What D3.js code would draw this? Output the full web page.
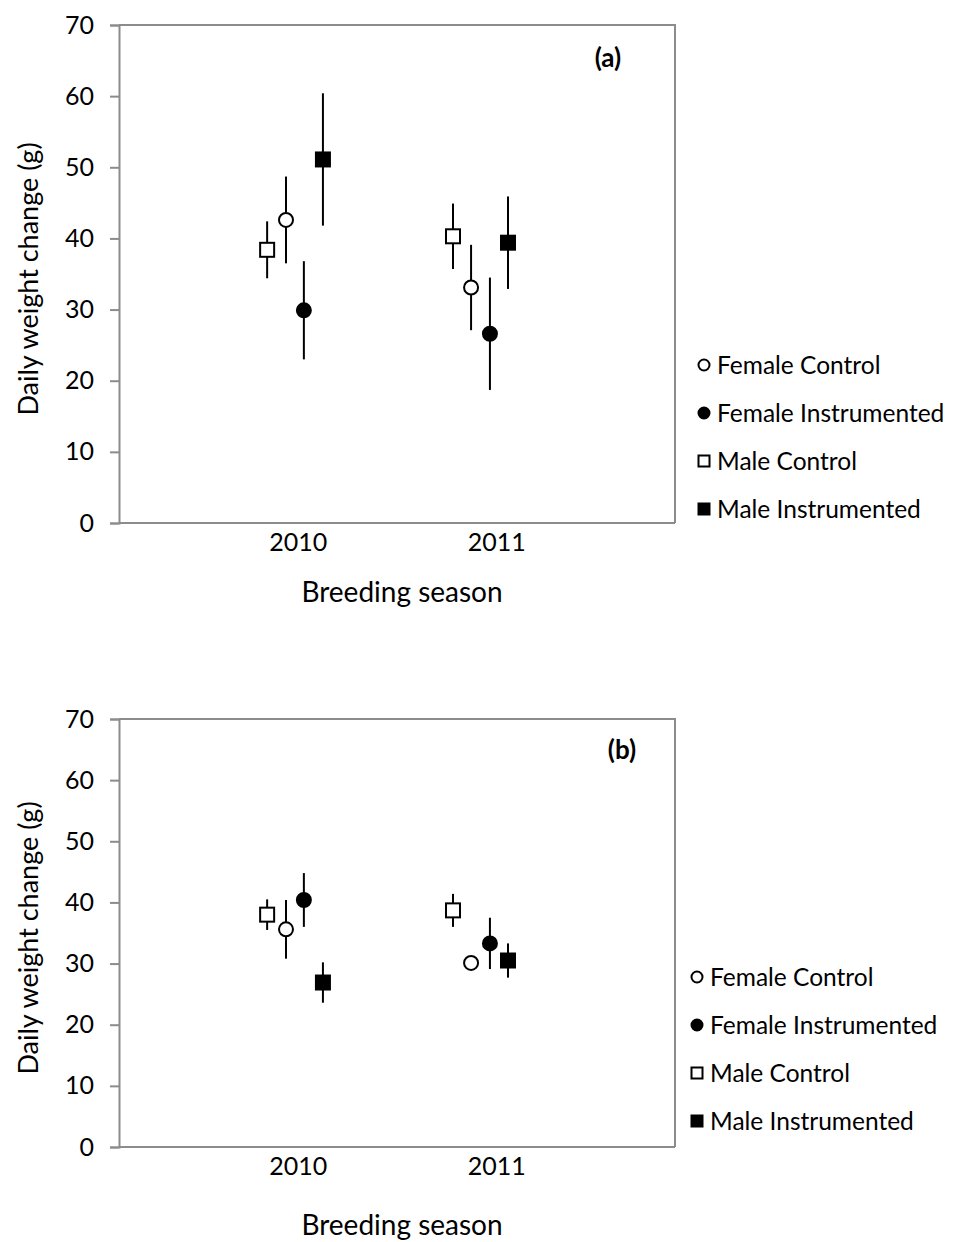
<!DOCTYPE html>
<html>
<head>
<meta charset="utf-8">
<script src="https://cdn.jsdelivr.net/npm/d3@7"></script>
<style>
  html, body { margin: 0; padding: 0; background: #fff; }
  svg { display: block; font-family: Lato, "Open Sans", sans-serif; }
</style>
</head>
<body>
<svg id="chart" width="955" height="1242"></svg>
<script>
// Breeding seasons and treatment groups
const seasons = [2010, 2011];
const groups = ["Female Control", "Female Instrumented", "Male Control", "Male Instrumented"];
const yTicks = [0, 10, 20, 30, 40, 50, 60, 70];

// Horizontal offsets (in years) of each group within a season
const offsets2010 = [-0.059, 0.031, -0.154, 0.127];
const offsets2011 = [-0.127, -0.032, -0.218, 0.059];

// Panel (a): mean daily weight change (g) and error half-widths
const aMean2010 = [42.6, 29.9, 38.4, 51.1];
const aErr2010  = [6.1, 6.9, 4.0, 9.3];
const aMean2011 = [33.1, 26.6, 40.3, 39.4];
const aErr2011  = [6.0, 7.9, 4.6, 6.5];

// Panel (b)
const bMean2010 = [35.6, 40.4, 38.0, 26.9];
const bErr2010  = [4.8, 4.4, 2.5, 3.3];
const bMean2011 = [30.1, 33.3, 38.7, 30.5];
const bErr2011  = [0.6, 4.2, 2.7, 2.8];

const markerFill = ["#fff", "#000", "#fff", "#000"];
const markerShape = ["circle", "circle", "square", "square"];

function buildRows(means, errs) {
  const offs = [offsets2010, offsets2011];
  const rows = [];
  seasons.forEach((s, si) => {
    groups.forEach((g, gi) => {
      rows.push({ season: s, group: g, gi: gi,
        x: s + offs[si][gi], y: means[si][gi], e: errs[si][gi] });
    });
  });
  return rows;
}

const svg = d3.select("#chart");
const left = 119, right = 675;
const axisGrey = "#8c8c8c";
const fontStack = "Lato, 'Open Sans', sans-serif";

function drawMarker(sel, gi, size) {
  if (markerShape[gi] === "circle") {
    sel.append("circle").attr("r", size / 2)
      .attr("fill", markerFill[gi]).attr("stroke", "#000").attr("stroke-width", 2);
  } else {
    sel.append("rect").attr("x", -size / 2).attr("y", -size / 2)
      .attr("width", size).attr("height", size)
      .attr("fill", markerFill[gi]).attr("stroke", "#000").attr("stroke-width", 2);
  }
}

function panel(opts) {
  const { top, bottom, rows, tag, tagX, tagY, legendX, legendY, titleY } = opts;
  const x = d3.scaleLinear().domain([2009.1, 2011.9]).range([left, right]);
  const y = d3.scaleLinear().domain([0, 70]).range([bottom, top]);
  const g = svg.append("g");

  // plot frame (top and right)
  g.append("path")
    .attr("d", `M${left},${top}H${right}V${bottom}`)
    .attr("fill", "none").attr("stroke", axisGrey).attr("stroke-width", 2);

  // y axis
  const yAxis = g.append("g").attr("transform", `translate(${left},0)`)
    .call(d3.axisLeft(y).tickValues(yTicks).tickSize(9).tickPadding(16));
  yAxis.select(".domain").attr("stroke", axisGrey).attr("stroke-width", 2);
  yAxis.selectAll(".tick line").attr("stroke", axisGrey).attr("stroke-width", 2);
  yAxis.selectAll(".tick text").attr("fill", "#000")
    .style("font-size", "25px").style("font-family", fontStack);

  // x axis
  const xAxis = g.append("g").attr("transform", `translate(0,${bottom})`)
    .call(d3.axisBottom(x).tickValues(seasons).tickFormat(d3.format("d")).tickSize(0).tickPadding(10));
  xAxis.select(".domain").attr("stroke", axisGrey).attr("stroke-width", 2)
    .attr("d", `M${left},0H${right}`);
  xAxis.selectAll(".tick text").attr("fill", "#000")
    .style("font-size", "25px").style("font-family", fontStack);

  // axis titles
  g.append("text").attr("x", 402).attr("y", titleY).attr("text-anchor", "middle")
    .style("font-size", "28px").text("Breeding season");
  g.append("text")
    .attr("transform", `translate(38,${(top + bottom) / 2 + 5}) rotate(-90)`)
    .attr("text-anchor", "middle").style("font-size", "27px")
    .text("Daily weight change (g)");

  // panel tag
  g.append("text").attr("x", tagX).attr("y", tagY).attr("text-anchor", "middle")
    .style("font-size", "26px").style("font-weight", "bold").text(tag);

  // error bars
  g.selectAll(".err").data(rows).join("line").attr("class", "err")
    .attr("x1", d => x(d.x)).attr("x2", d => x(d.x))
    .attr("y1", d => y(d.y + d.e)).attr("y2", d => y(d.y - d.e))
    .attr("stroke", "#000").attr("stroke-width", 2);

  // markers
  g.selectAll(".pt").data(rows).join("g").attr("class", "pt")
    .attr("transform", d => `translate(${x(d.x)},${y(d.y)})`)
    .each(function (d) { drawMarker(d3.select(this), d.gi, 14); });

  // legend
  const leg = g.append("g").attr("transform", `translate(${legendX},${legendY})`);
  groups.forEach((name, i) => {
    const row = leg.append("g").attr("transform", `translate(0,${i * 48})`);
    drawMarker(row.append("g"), i, 11);
    row.append("text").attr("x", 13).attr("y", 0).attr("dy", "0.35em")
      .style("font-size", "24.5px").text(name);
  });
}

panel({ top: 25, bottom: 523, rows: buildRows([aMean2010, aMean2011], [aErr2010, aErr2011]),
  tag: "(a)", tagX: 608, tagY: 67, legendX: 704, legendY: 365, titleY: 602 });
panel({ top: 719, bottom: 1147, rows: buildRows([bMean2010, bMean2011], [bErr2010, bErr2011]),
  tag: "(b)", tagX: 622, tagY: 759, legendX: 697, legendY: 977, titleY: 1235 });
</script>
</body>
</html>
